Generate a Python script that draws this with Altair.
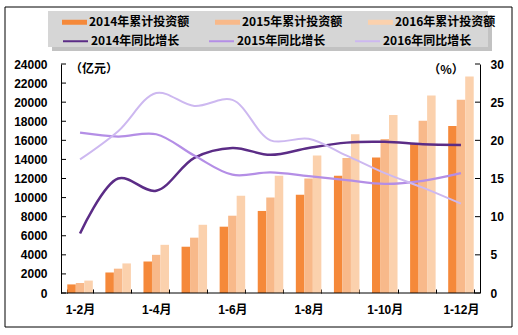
import altair as alt
import pandas as pd

months = ["1-2月", "1-3月", "1-4月", "1-5月", "1-6月", "1-7月", "1-8月", "1-9月", "1-10月", "1-11月", "1-12月"]
shown_months = ["1-2月", "1-4月", "1-6月", "1-8月", "1-10月", "1-12月"]

bar_series = ["2014年累计投资额", "2015年累计投资额", "2016年累计投资额"]
inv_2014 = [900, 2150, 3300, 4850, 6950, 8600, 10300, 12300, 14200, 15700, 17500]
inv_2015 = [1050, 2550, 4000, 5800, 8100, 10000, 12000, 14150, 16150, 18050, 20250]
inv_2016 = [1300, 3100, 5050, 7150, 10200, 12300, 14400, 16650, 18650, 20700, 22700]

line_series = ["2014年同比增长", "2015年同比增长", "2016年同比增长"]
gr_2014 = [7.8, 15.0, 13.4, 17.7, 19.0, 18.1, 19.0, 19.7, 19.8, 19.5, 19.4]
gr_2015 = [21.0, 20.5, 20.8, 18.0, 15.5, 15.8, 15.3, 14.8, 14.3, 14.7, 15.7]
gr_2016 = [17.5, 21.2, 26.2, 24.5, 25.3, 20.0, 20.2, 18.0, 15.7, 13.8, 11.7]

left_ticks = [0, 2000, 4000, 6000, 8000, 10000, 12000, 14000, 16000, 18000, 20000, 22000, 24000]
right_ticks = [0, 5, 10, 15, 20, 25, 30]

bar_colors = ["#F5893A", "#F8B98A", "#FBD1AD"]
line_colors = ["#5B2C86", "#B48EE6", "#CDB8F0"]

W, H = 419, 229
NUM_FONT = "Liberation Sans, Noto Sans CJK SC"
CJK_FONT = "Noto Sans CJK SC"

bars_df = pd.DataFrame({
    "month": months * 3,
    "series": [bar_series[0]] * 11 + [bar_series[1]] * 11 + [bar_series[2]] * 11,
    "value": inv_2014 + inv_2015 + inv_2016,
})
lines_df = pd.DataFrame({
    "month": months * 3,
    "series": [line_series[0]] * 11 + [line_series[1]] * 11 + [line_series[2]] * 11,
    "growth": gr_2014 + gr_2015 + gr_2016,
})
lt_df = pd.DataFrame({"value": left_ticks})
rt_df = pd.DataFrame({"growth": right_ticks})
base_df = pd.DataFrame({"value": [0]})
one = pd.DataFrame({"a": [0]})

label_expr = "indexof([" + ",".join("'" + m + "'" for m in shown_months) + "], datum.label) >= 0 ? datum.label : ''"

x_enc = alt.X(
    "month:N", sort=months, title=None,
    scale=alt.Scale(paddingInner=0.33, paddingOuter=0.165),
    axis=alt.Axis(
        domain=False, offset=-4, tickSize=4, ticks=True, tickBand="extent",
        tickColor="black", labelExpr=label_expr, labelAngle=0,
        labelFont=NUM_FONT, labelFontSize=12, labelFontWeight="bold",
        labelColor="black", labelPadding=11, grid=False,
    ),
)

y_left = alt.Y("value:Q", title=None,
               scale=alt.Scale(domain=[0, 24000], nice=False),
               axis=alt.Axis(values=left_ticks, domain=True, domainColor="black", ticks=False,
                             grid=False, labelFont=NUM_FONT, labelFontSize=12, labelFontWeight="bold",
                             labelColor="black", labelPadding=14, format="d"))
y_right = alt.Y("growth:Q", title=None,
                scale=alt.Scale(domain=[0, 30], nice=False),
                axis=alt.Axis(values=right_ticks, orient="right", domain=True, domainColor="black",
                              ticks=False, grid=False, labelFont=NUM_FONT, labelFontSize=12,
                              labelFontWeight="bold", labelColor="black", labelPadding=10))

# decorations
shadow = alt.Chart(one).mark_rect(fill="#A8A8A8", opacity=0.7).encode(
    x=alt.value(-9), x2=alt.value(431), y=alt.value(-49), y2=alt.value(-13))
box = alt.Chart(one).mark_rect(fill="#D6D6D6").encode(
    x=alt.value(-13), x2=alt.value(427), y=alt.value(-53), y2=alt.value(-17))
border = alt.Chart(one).mark_rect(fill=None, stroke="black", strokeWidth=1).encode(
    x=alt.value(-56), x2=alt.value(451), y=alt.value(-57), y2=alt.value(263))
unit_l = alt.Chart(one).mark_text(text="（亿元）", font=CJK_FONT, fontSize=12, fontWeight="bold",
                                  align="left", baseline="middle", color="black").encode(
    x=alt.value(9), y=alt.value(5))
unit_r = alt.Chart(one).mark_text(text="（%）", font=CJK_FONT, fontSize=12, fontWeight="bold",
                                  align="center", baseline="middle", color="black").encode(
    x=alt.value(385), y=alt.value(6))

bars = alt.Chart(bars_df).mark_bar().encode(
    x=x_enc,
    xOffset=alt.XOffset("series:N", sort=bar_series, scale=alt.Scale(paddingInner=0, paddingOuter=0)),
    y=y_left,
    color=alt.Color("series:N", sort=bar_series,
                    scale=alt.Scale(domain=bar_series, range=bar_colors),
                    legend=alt.Legend(title=None, orient="none", direction="horizontal",
                                      legendX=1, legendY=-54.5, padding=0,
                                      symbolType="M-1,-0.2H1V0.2H-1Z", symbolSize=625,
                                      symbolStrokeWidth=0, labelOffset=2, columnPadding=25,
                                      labelFont=CJK_FONT, labelFontSize=12, labelFontWeight="bold",
                                      labelColor="black", labelLimit=200)),
)

lticks = alt.Chart(lt_df).mark_rule(color="black", strokeWidth=1).encode(
    y=y_left, x=alt.value(0), x2=alt.value(5))
baseline = alt.Chart(base_df).mark_rule(color="black", strokeWidth=1).encode(
    y=y_left, x=alt.value(0), x2=alt.value(W))

lines = alt.Chart(lines_df).mark_line(interpolate="catmull-rom").encode(
    x=x_enc,
    y=y_right,
    stroke=alt.Stroke("series:N", sort=line_series,
                      scale=alt.Scale(domain=line_series, range=line_colors),
                      legend=alt.Legend(title=None, orient="none", direction="horizontal",
                                        legendX=1, legendY=-36.5, padding=0,
                                        symbolType="stroke", symbolSize=625, symbolStrokeWidth=2,
                                        labelOffset=2, columnPadding=25,
                                        labelFont=CJK_FONT, labelFontSize=12, labelFontWeight="bold",
                                        labelColor="black", labelLimit=200)),
    strokeWidth=alt.StrokeWidth("series:N", sort=line_series,
                                scale=alt.Scale(domain=line_series, range=[2.5, 2, 2]), legend=None),
)

rticks = alt.Chart(rt_df).mark_rule(color="black", strokeWidth=1).encode(
    y=y_right, x=alt.value(W - 5), x2=alt.value(W))

left_layer = alt.layer(shadow, box, border, unit_l, unit_r, bars, lticks, baseline)
right_layer = alt.layer(lines, rticks)

chart = alt.layer(left_layer, right_layer).resolve_scale(
    y="independent", color="independent", strokeWidth="independent"
).properties(
    width=W, height=H,
    autosize=alt.AutoSizeParams(type="none"),
    padding={"left": 61, "top": 64, "right": 38, "bottom": 42},
    background="white",
).configure_view(stroke=None)

chart.save("out.html", embed_options={"renderer": "svg", "actions": False})
